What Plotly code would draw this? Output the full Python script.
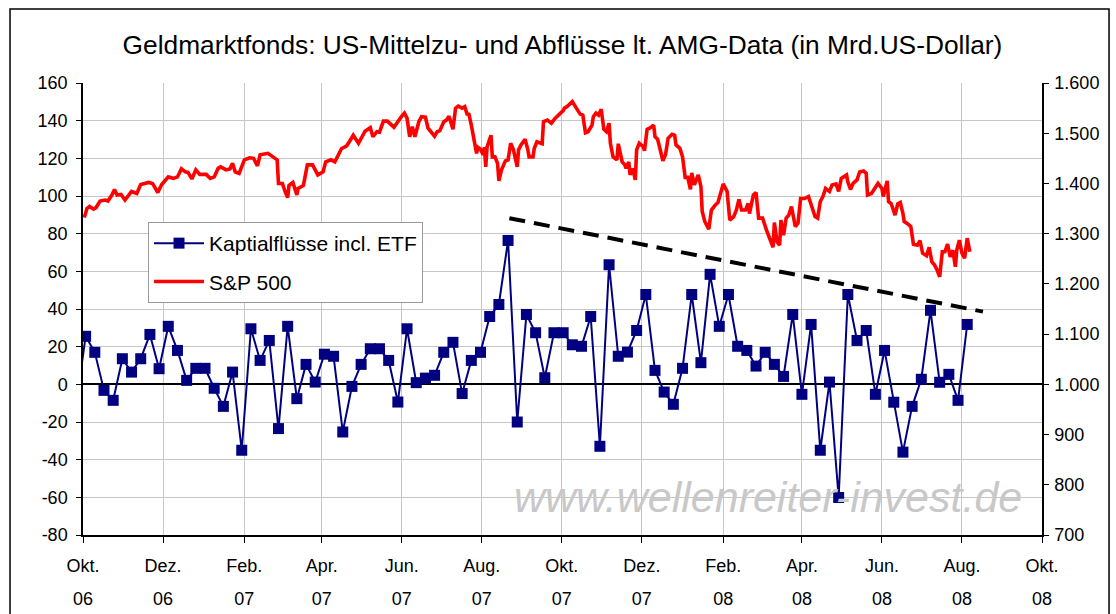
import pandas as pd
import plotly.graph_objects as go

title_text = "Geldmarktfonds: US-Mittelzu- und Abflüsse lt. AMG-Data (in Mrd.US-Dollar)"

# weekly money-market fund flows (bn USD), first value is the week before the axis start
flow_first_date = "2006-09-26"
flow_values = [-10, 25.5, 17, -3.2, -8.5, 13.6, 6.5, 13.6, 26.5, 8.3, 30.8, 18, 2.1, 8.5, 8.5,
               -2.1, -11.7, 6.5, -35, 29.5, 12.7, 23.3, -23.5, 30.8, -7.6, 10.6, 1.2, 16, 14.9,
               -25.3, -1.1, 10.6, 18.9, 18.9, 12.7, -9.4, 29.5, 0.9, 3.3, 4.8, 17, 22.3, -4.9,
               12.7, 17, 36, 42.4, 76.4, -20, 37.1, 27.4, 3.5, 27.4, 27.4, 21, 20.2, 36, -32.9,
               63.5, 14.9, 17.1, 28.6, 47.7, 7.4, -4.1, -10.6, 8.5, 47.7, 11.5, 58.4, 30.8, 47.7,
               20.2, 18, 9.7, 17, 10.6, 4.2, 37.1, -5.3, 31.8, -35, 1.2, -60.1, 47.7, 23.3, 28.6,
               -5.3, 18, -9.5, -36, -11.7, 2.7, 39.3, 1.1, 5.3, -8.5, 31.8]

# S&P 500 (days after 2006-10-01, index level)
sp_base_date = "2006-10-01"
sp_day_offset = [1, 3, 5, 8, 10, 13, 17, 19, 22, 24, 26, 29, 32, 34, 37, 41, 44, 50, 53, 57, 60, 65,
                 69, 72, 75, 78, 80, 83, 86, 89, 94, 97, 100, 103, 105, 109, 112, 114, 116, 119,
                 123, 127, 130, 133, 135, 141, 145, 148, 149, 152, 154, 156, 157, 160, 163, 164,
                 168, 171, 175, 179, 183, 185, 189, 192, 197, 201, 203, 206, 210, 215, 219, 221,
                 224, 226, 229, 232, 237, 239, 243, 245, 247, 249, 251, 253, 256, 258, 261, 263,
                 266, 268, 270, 272, 275, 277, 279, 282, 284, 286, 289, 291, 293, 294, 296, 298,
                 300, 301, 303, 305, 306, 307, 308, 311, 312, 314, 316, 317, 319, 322, 324, 326,
                 328, 331, 332, 334, 337, 339, 340, 343, 344, 346, 350, 351, 354, 357, 360, 364,
                 366, 367, 369, 373, 375, 377, 379, 381, 383, 385, 388, 389, 391, 393, 395, 397,
                 399, 401, 402, 404, 407, 408, 411, 413, 414, 416, 417, 419, 421, 422, 424, 427,
                 428, 430, 432, 435, 436, 438, 440, 442, 444, 446, 449, 451, 452, 455, 457, 459,
                 461, 463, 464, 466, 469, 471, 472, 474, 477, 479, 482, 484, 488, 491, 493, 496,
                 498, 500, 502, 505, 507, 508, 511, 513, 515, 518, 521, 524, 526, 527, 529, 531,
                 532, 534, 536, 538, 540, 543, 545, 547, 550, 553, 555, 558, 560, 562, 564, 566,
                 569, 571, 574, 576, 578, 580, 582, 583, 585, 587, 590, 592, 595, 597, 598, 601,
                 604, 606, 609, 610, 613, 614, 616, 619, 621, 623, 625, 626, 629, 631, 633, 636,
                 638, 640, 643, 645, 647, 649, 651, 653, 655, 657, 659, 661, 663, 665, 666, 668,
                 670, 672, 674, 676]
sp_values = [1332, 1350, 1354, 1349, 1352, 1365, 1367, 1365, 1377, 1388, 1377, 1378, 1367, 1374,
             1384, 1380, 1398, 1402, 1400, 1382, 1398, 1413, 1410, 1413, 1429, 1423, 1422, 1409,
             1427, 1418, 1418, 1410, 1413, 1430, 1433, 1427, 1429, 1440, 1423, 1420, 1447, 1451,
             1450, 1435, 1457, 1460, 1453, 1447, 1400, 1400, 1384, 1372, 1396, 1402, 1377, 1390,
             1396, 1437, 1437, 1417, 1423, 1443, 1447, 1443, 1469, 1475, 1483, 1496, 1480, 1504,
             1511, 1493, 1503, 1502, 1524, 1524, 1512, 1520, 1534, 1540, 1530, 1493, 1513, 1493,
             1523, 1533, 1532, 1510, 1501, 1494, 1503, 1505, 1523, 1526, 1534, 1508, 1550, 1554,
             1550, 1553, 1536, 1540, 1516, 1483, 1460, 1472, 1468, 1457, 1472, 1433, 1473, 1496,
             1453, 1453, 1440, 1405, 1427, 1445, 1447, 1480, 1468, 1433, 1467, 1477, 1488, 1468,
             1453, 1453, 1470, 1483, 1479, 1523, 1526, 1520, 1530, 1540, 1545, 1550, 1553, 1563,
             1556, 1546, 1538, 1536, 1501, 1503, 1516, 1533, 1540, 1536, 1548, 1508, 1503, 1520,
             1480, 1453, 1447, 1479, 1443, 1437, 1430, 1443, 1417, 1430, 1407, 1467, 1480, 1473,
             1465, 1508, 1510, 1516, 1493, 1488, 1467, 1445, 1457, 1490, 1498, 1496, 1477, 1470,
             1453, 1412, 1412, 1388, 1421, 1397, 1417, 1394, 1344, 1324, 1309, 1347, 1357, 1362,
             1399, 1384, 1327, 1334, 1347, 1368, 1347, 1347, 1360, 1340, 1377, 1382, 1331, 1331,
             1307, 1287, 1273, 1322, 1284, 1277, 1327, 1297, 1331, 1337, 1354, 1314, 1321, 1370,
             1370, 1374, 1360, 1334, 1331, 1364, 1374, 1390, 1384, 1397, 1399, 1384, 1410, 1413,
             1417, 1403, 1388, 1400, 1407, 1423, 1425, 1420, 1377, 1380, 1392, 1400, 1390, 1374,
             1405, 1364, 1360, 1337, 1359, 1362, 1340, 1324, 1319, 1314, 1279, 1277, 1286, 1261,
             1256, 1273, 1244, 1238, 1228, 1214, 1264, 1264, 1279, 1254, 1267, 1234, 1267, 1287,
             1261, 1251, 1291, 1264]

# hand-drawn downward trend line
trend_dates = ["2007-08-22", "2008-08-17"]
trend_values = [88.2, 38.6]

# axis ticks
tick_dates = ["2006-10-01", "2006-12-01", "2007-02-01", "2007-04-01", "2007-06-01", "2007-08-01",
              "2007-10-01", "2007-12-01", "2008-02-01", "2008-04-01", "2008-06-01", "2008-08-01",
              "2008-10-01"]
tick_months = ["Okt.", "Dez.", "Feb.", "Apr.", "Jun.", "Aug.", "Okt.", "Dez.", "Feb.", "Apr.",
               "Jun.", "Aug.", "Okt."]
tick_years = ["06", "06", "07", "07", "07", "07", "07", "07", "08", "08", "08", "08", "08"]
left_ticks = [-80, -60, -40, -20, 0, 20, 40, 60, 80, 100, 120, 140, 160]
right_ticks = [700, 800, 900, 1000, 1100, 1200, 1300, 1400, 1500, 1600]

flow_dates = pd.date_range(flow_first_date, periods=len(flow_values), freq="7D")
sp_dates = pd.Timestamp(sp_base_date) + pd.to_timedelta(sp_day_offset, unit="D")

FONT = "Liberation Sans, Arial, sans-serif"
NAVY = "#000080"
GRID = "#c6c6c6"

fig = go.Figure()
fig.add_trace(go.Scatter(
    x=flow_dates, y=flow_values, mode="lines+markers", name="Kaptialflüsse incl. ETF",
    line=dict(color=NAVY, width=2), marker=dict(symbol="square", size=11, color=NAVY),
    legendgroup="a", hoverinfo="skip"))
fig.add_trace(go.Scatter(
    x=sp_dates, y=sp_values, mode="lines", name="S&P 500", yaxis="y2",
    line=dict(color="#ff0000", width=3.6), legendgroup="b", hoverinfo="skip"))
fig.add_trace(go.Scatter(
    x=pd.to_datetime(trend_dates), y=trend_values, mode="lines", showlegend=False,
    line=dict(color="black", width=4, dash="16px,9px"), hoverinfo="skip"))
# carrier for the year row of the x tick labels
fig.add_trace(go.Scatter(
    x=pd.to_datetime(tick_dates), y=[None] * len(tick_dates), xaxis="x2", mode="lines",
    showlegend=False, hoverinfo="skip"))

xr = ["2006-10-01", "2008-10-01"]
fig.update_layout(
    width=1116, height=614,
    margin=dict(l=83, r=74, t=83, b=79, autoexpand=False),
    paper_bgcolor="white", plot_bgcolor="white",
    separators=",.",
    font=dict(family=FONT, color="black", size=18),
    title=dict(text=title_text, xref="paper", x=0.5, xanchor="center", y=0.927,
               yanchor="middle", font=dict(size=26.3, family=FONT, color="black")),
    xaxis=dict(type="date", range=xr, tickvals=tick_dates, ticktext=tick_months,
               showgrid=True, gridcolor=GRID, gridwidth=1, automargin=False,
               showline=True, linecolor="black", linewidth=1.5,
               ticks="outside", ticklen=6, tickcolor="black",
               ticklabelstandoff=8, tickfont=dict(size=18), zeroline=False),
    xaxis2=dict(type="date", range=xr, overlaying="x", anchor="y", side="bottom",
                tickvals=tick_dates, ticktext=tick_years, showgrid=False, showline=False,
                automargin=False,
                ticks="", ticklabelstandoff=51, tickfont=dict(size=18), zeroline=False),
    yaxis=dict(range=[-80, 160], tickvals=left_ticks, ticktext=[str(v) for v in left_ticks],
               showgrid=True, gridcolor=GRID, gridwidth=1, automargin=False,
               showline=True, linecolor="black", linewidth=1.5,
               ticks="outside", ticklen=5, tickcolor="black",
               zeroline=True, zerolinecolor="black", zerolinewidth=2,
               tickfont=dict(size=18), ticklabelstandoff=5),
    yaxis2=dict(range=[700, 1600], tickvals=right_ticks, tickformat=",d", overlaying="y",
                side="right", showgrid=False, showline=True, linecolor="black", linewidth=1.5,
                automargin=False,
                ticks="outside", ticklen=5, tickcolor="black", zeroline=False,
                tickfont=dict(size=18), ticklabelstandoff=2),
    legend=dict(x=0.0678, y=0.6925, xanchor="left", yanchor="top", bgcolor="white",
                bordercolor="#999999", borderwidth=1, font=dict(size=21, family=FONT),
                itemwidth=50, traceorder="grouped", tracegroupgap=8),
    showlegend=True,
)

fig.add_annotation(text="<i>www.wellenreiter-invest.de</i>", xref="paper", yref="paper",
                   x=0.714, y=0.084, xanchor="center", yanchor="middle", showarrow=False,
                   font=dict(size=43, color="#c8c8c8", family=FONT))

# outer chart frame
fig.add_shape(type="rect", xref="paper", yref="paper", x0=-0.0761, x1=1.0699, y0=-0.3,
              y1=1.1637, line=dict(color="black", width=1.5), fillcolor="rgba(0,0,0,0)",
              layer="below")

fig.write_html("out.html", config={"displayModeBar": False},
               post_script="document.body.style.margin='0px';")
